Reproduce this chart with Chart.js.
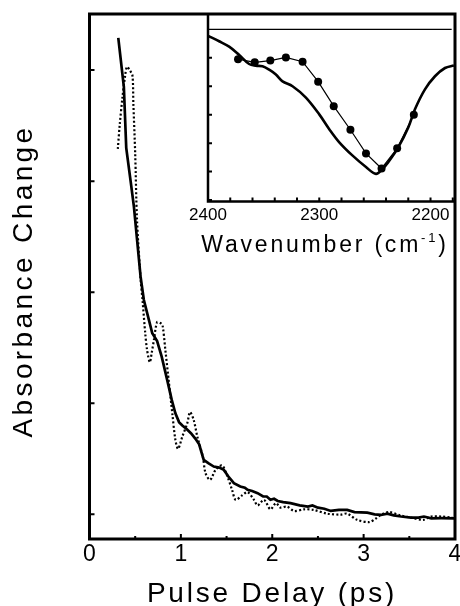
<!DOCTYPE html>
<html>
<head>
<meta charset="utf-8">
<script src="https://cdn.jsdelivr.net/npm/chart.js@4.4.1/dist/chart.umd.min.js"></script>
<style>
  html, body { margin: 0; padding: 0; background: #fff; }
  #wrap { position: relative; width: 460px; height: 606px; }
  #wrap canvas { position: absolute; left: 0; top: 0; }
</style>
</head>
<body>
<div id="wrap">
  <canvas id="main" width="460" height="606"></canvas>
  <canvas id="inset" width="460" height="606"></canvas>
</div>
<script>
// main panel: absorbance change vs pulse delay (arb. units on y)
const fitDelay = [0.315, 0.376, 0.402, 0.45, 0.486, 0.559, 0.595, 0.65, 0.687, 0.74, 0.79, 0.85, 0.90, 0.94, 0.98, 1.016,
  1.06, 1.11, 1.16, 1.20, 1.25, 1.30, 1.36, 1.42, 1.47, 1.52, 1.58, 1.65, 1.70, 1.73, 1.78, 1.84, 1.90, 1.94, 1.98,
  2.02, 2.06, 2.12, 2.2, 2.3, 2.39, 2.44, 2.5, 2.57, 2.64, 2.73, 2.82, 2.9, 3.04, 3.12, 3.19, 3.26, 3.33, 3.41,
  3.52, 3.6, 3.66, 3.74, 3.85, 3.99];
const fitAbs = [4.29, 3.85, 3.30, 3.00, 2.77, 2.14, 1.93, 1.75, 1.63, 1.56, 1.42, 1.21, 1.03, 0.91, 0.83, 0.80,
  0.77, 0.73, 0.68, 0.63, 0.49, 0.46, 0.43, 0.42, 0.40, 0.34, 0.28, 0.25, 0.24, 0.22, 0.21, 0.19, 0.16, 0.16, 0.13,
  0.14, 0.12, 0.11, 0.10, 0.08, 0.07, 0.08, 0.06, 0.05, 0.03, 0.04, 0.04, 0.02, 0.015, 0.0, -0.006, 0.006, -0.01, -0.02,
  -0.03, -0.03, -0.02, -0.036, -0.035, -0.036];

const dataDelay = [0.31, 0.33, 0.36, 0.39, 0.41, 0.44, 0.47, 0.48, 0.50, 0.52, 0.56, 0.58, 0.61, 0.63, 0.66, 0.68,
  0.705, 0.74, 0.78, 0.80, 0.83, 0.87, 0.906, 0.94, 0.97, 1.016, 1.07, 1.10, 1.14, 1.18, 1.24, 1.27, 1.32, 1.38,
  1.45, 1.51, 1.56, 1.60, 1.67, 1.73, 1.80, 1.84, 1.91, 1.98, 2.04, 2.09, 2.16, 2.24, 2.35, 2.45, 2.60, 2.75, 2.82,
  2.93, 3.06, 3.13, 3.2, 3.28, 3.4, 3.52, 3.65, 3.74, 3.85, 3.97];
const dataAbs = [3.29, 3.50, 3.75, 3.95, 4.03, 4.00, 3.95, 3.70, 3.25, 2.65, 2.11, 1.93, 1.63, 1.48, 1.37, 1.45,
  1.57, 1.73, 1.72, 1.70, 1.48, 1.18, 0.91, 0.67, 0.59, 0.70, 0.82, 0.92, 0.85, 0.70, 0.52, 0.37, 0.31, 0.40,
  0.44, 0.34, 0.22, 0.13, 0.17, 0.20, 0.13, 0.08, 0.13, 0.045, 0.10, 0.06, 0.07, 0.03, 0.045, 0.04, 0.006, -0.003, 0.006,
  -0.05, -0.07, -0.04, 0.0, 0.02, -0.01, -0.03, -0.05, -0.02, -0.02, -0.03];

const delayTicks = [0, 1, 2, 3, 4];
const delayMinorTicks = [0.5, 1.5, 2.5, 3.5];
const absTicks = [0, 1, 2, 3, 4];

// inset: IR spectrum vs wavenumber, with measured points
const specWn = [2400, 2390, 2381, 2372, 2363, 2357, 2351, 2345, 2339, 2333, 2324, 2312, 2300, 2291, 2282, 2270,
  2258, 2249, 2243, 2238, 2229, 2220, 2214, 2205, 2196, 2187, 2179];
const specAbs = [-0.23, -0.42, -0.61, -0.90, -1.22, -1.28, -1.30, -1.42, -1.59, -1.83, -2.00, -2.40, -2.99, -3.51, -3.97, -4.44,
  -4.84, -5.08, -4.90, -4.67, -4.15, -3.45, -2.81, -2.11, -1.65, -1.36, -1.27];

const pointWn = [2373, 2358, 2344, 2330, 2315, 2301, 2287, 2272, 2258, 2244, 2230, 2215];
const pointAbs = [-1.05, -1.16, -1.10, -0.99, -1.14, -1.84, -2.70, -3.53, -4.36, -4.89, -4.18, -3.00];

const zeroWn = [2400, 2181];
const zeroAbs = [0, 0];

const wnTicks = [2380, 2360, 2340, 2320, 2300, 2280, 2260, 2240, 2220, 2200, 2180];
const wnLabels = [2400, 2300, 2200];
const insetAbsTicks = [-6, -5, -4, -3, -2, -1];

const FONT = "'Liberation Sans', Arial, sans-serif";
const xy = (xs, ys) => xs.map((x, i) => ({ x, y: ys[i] }));

// frame + inward tick marks, placed through the chart scales
const frameTicks = {
  id: 'frameTicks',
  afterDatasetsDraw(chart, args, o) {
    const { ctx, chartArea: a } = chart;
    const sx = chart.scales.x, sy = chart.scales.y;
    ctx.save();
    ctx.strokeStyle = '#000';
    ctx.lineCap = 'butt';
    ctx.lineWidth = o.tickWidth;
    ctx.beginPath();
    (o.xMajor || []).forEach(v => {
      const p = sx.getPixelForValue(v);
      ctx.moveTo(p, a.bottom); ctx.lineTo(p, a.bottom - o.majorLen);
    });
    (o.xMinor || []).forEach(v => {
      const p = sx.getPixelForValue(v);
      ctx.moveTo(p, a.bottom); ctx.lineTo(p, a.bottom - o.minorLen);
    });
    (o.yMajor || []).forEach(v => {
      const p = sy.getPixelForValue(v);
      ctx.moveTo(a.left, p); ctx.lineTo(a.left + o.majorLen, p);
    });
    ctx.stroke();
    ctx.lineWidth = o.frameWidth;
    ctx.beginPath();
    if (o.fullBox) {
      ctx.rect(a.left, a.top, a.right - a.left, a.bottom - a.top);
    } else {
      ctx.moveTo(a.left, a.top); ctx.lineTo(a.left, a.bottom); ctx.lineTo(a.right, a.bottom);
    }
    ctx.stroke();
    ctx.restore();
  }
};

// axis titles with the wide letter spacing of the original
const axisTitles = {
  id: 'axisTitles',
  afterDraw(chart, args, o) {
    const ctx = chart.ctx;
    (o.items || []).forEach(t => {
      ctx.save();
      ctx.fillStyle = '#000';
      ctx.textBaseline = 'alphabetic';
      ctx.textAlign = 'left';
      ctx.letterSpacing = t.spacing + 'px';
      let total = 0;
      t.parts.forEach(p => { ctx.font = p.font; total += ctx.measureText(p.text).width; });
      ctx.translate(t.x, t.y);
      if (t.rotate) ctx.rotate(t.rotate);
      let cx = -total / 2;
      t.parts.forEach(p => {
        ctx.font = p.font;
        ctx.fillText(p.text, cx, p.dy || 0);
        cx += ctx.measureText(p.text).width;
      });
      ctx.restore();
    });
  }
};

new Chart(document.getElementById('main'), {
  type: 'line',
  data: {
    datasets: [
      { data: xy(fitDelay, fitAbs), borderColor: '#000', borderWidth: 2.7, pointRadius: 0, tension: 0 },
      { data: xy(dataDelay, dataAbs), borderColor: '#000', borderWidth: 2.2, borderDash: [2, 2.2], pointRadius: 0, tension: 0.3 }
    ]
  },
  options: {
    responsive: false,
    animation: false,
    devicePixelRatio: 1,
    layout: { padding: { left: 89.5, top: 14, right: 5, bottom: 0 } },
    plugins: {
      legend: { display: false },
      tooltip: { enabled: false },
      frameTicks: { xMajor: delayTicks, xMinor: delayMinorTicks, yMajor: absTicks, majorLen: 5, minorLen: 3, tickWidth: 2, frameWidth: 3, fullBox: true },
      axisTitles: {
        items: [
          { x: 272, y: 602, spacing: 2.8, parts: [{ text: 'Pulse Delay (ps)', font: '28px ' + FONT }] },
          { x: 32, y: 281, rotate: -Math.PI / 2, spacing: 3.4, parts: [{ text: 'Absorbance Change', font: '28px ' + FONT }] }
        ]
      }
    },
    scales: {
      x: {
        type: 'linear', min: 0, max: 4,
        afterBuildTicks: s => { s.ticks = delayTicks.map(v => ({ value: v })); },
        afterFit: s => { s.height = 606 - 539; s.paddingLeft = 0; s.paddingRight = 0; },
        grid: { display: false, drawTicks: false },
        border: { display: false },
        ticks: { color: '#000', font: { family: FONT, size: 23 }, padding: 2, maxRotation: 0, autoSkip: false, callback: v => String(v) }
      },
      y: {
        type: 'linear', min: -0.2225, max: 4.505, display: false
      }
    }
  },
  plugins: [frameTicks, axisTitles]
});

new Chart(document.getElementById('inset'), {
  type: 'line',
  data: {
    datasets: [
      { data: xy(zeroWn, zeroAbs), borderColor: '#000', borderWidth: 1.2, pointRadius: 0 },
      { data: xy(specWn, specAbs), borderColor: '#000', borderWidth: 2.6, pointRadius: 0, tension: 0.35 },
      { data: xy(pointWn, pointAbs), borderColor: '#000', borderWidth: 1.2, pointRadius: 4, pointBackgroundColor: '#000', pointBorderWidth: 0, tension: 0 }
    ]
  },
  options: {
    responsive: false,
    animation: false,
    devicePixelRatio: 1,
    layout: { padding: { left: 208, top: 14, right: 5, bottom: 0 } },
    plugins: {
      legend: { display: false },
      tooltip: { enabled: false },
      frameTicks: { xMajor: wnTicks, yMajor: insetAbsTicks, majorLen: 4, tickWidth: 2, frameWidth: 2.5, fullBox: false },
      axisTitles: {
        items: [
          { x: 325, y: 252, spacing: 2.8, parts: [
            { text: 'Wavenumber (cm', font: '23px ' + FONT },
            { text: '-1', font: '13px ' + FONT, dy: -10 },
            { text: ')', font: '23px ' + FONT }
          ] }
        ]
      }
    },
    scales: {
      x: {
        type: 'linear', reverse: true, min: 2178, max: 2400,
        afterBuildTicks: s => { s.ticks = wnLabels.map(v => ({ value: v })); },
        afterFit: s => { s.height = 606 - 201.5; s.paddingLeft = 0; s.paddingRight = 0; },
        grid: { display: false, drawTicks: false },
        border: { display: false },
        ticks: { color: '#000', font: { family: FONT, size: 17 }, padding: 4, maxRotation: 0, autoSkip: false, callback: v => String(v) }
      },
      y: {
        type: 'linear', min: -6.05, max: 0.537, display: false
      }
    }
  },
  plugins: [frameTicks, axisTitles]
});
</script>
</body>
</html>
